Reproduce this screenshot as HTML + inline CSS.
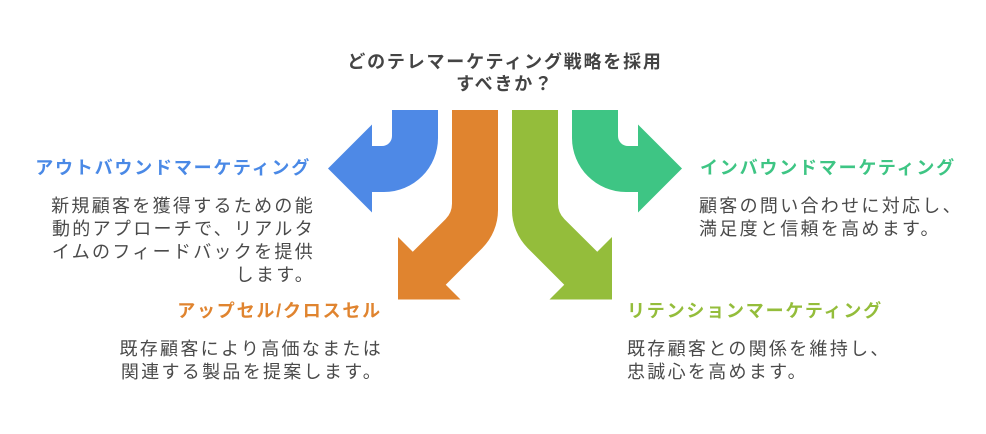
<!DOCTYPE html>
<html lang="ja">
<head>
<meta charset="utf-8">
<style>
  html, body { margin:0; padding:0; background:#ffffff; }
  body { width:986px; height:434px; position:relative; overflow:hidden;
         font-family:"Liberation Sans","Noto Sans CJK JP",sans-serif; }
  .t { position:absolute; white-space:nowrap; font-size:18px; line-height:23px; letter-spacing:1.8px; }
  .h { font-weight:bold; }
  .d { color:#4a4a4a; letter-spacing:2.3px; }
  .r { text-align:right; }
  svg { position:absolute; left:0; top:0; }
</style>
</head>
<body>
<svg width="986" height="434" viewBox="0 0 986 434">
  <path fill="#4E89E6" d="M392,110 H438 V138 A54,54 0 0 1 384,192 H372 V212.5 L328,168.5 L372,124.5 V146 H382 A10,10 0 0 0 392,136 Z"/>
  <path fill="#E0842F" d="M452,110 H498 V210 A54,54 0 0 1 482.2,248.2 L445.75,284.75 L460.5,299.5 H398 V237 L412.75,251.75 L445.6,219.1 A22,22 0 0 0 452,203.5 Z"/>
  <g transform="matrix(-1,0,0,1,1010,0)">
    <path fill="#3EC584" d="M392,110 H438 V138 A54,54 0 0 1 384,192 H372 V212.5 L328,168.5 L372,124.5 V146 H382 A10,10 0 0 0 392,136 Z"/>
    <path fill="#94BD3B" d="M452,110 H498 V210 A54,54 0 0 1 482.2,248.2 L445.75,284.75 L460.5,299.5 H398 V237 L412.75,251.75 L445.6,219.1 A22,22 0 0 0 452,203.5 Z"/>
  </g>
</svg>

<div class="t h" style="left:0; width:1010px; text-align:center; top:51px; line-height:22px; color:#444444;">どのテレマーケティング戦略を採用<br>すべきか？</div>

<div class="t h r" style="right:675px; top:157px; color:#4A89E6;">アウトバウンドマーケティング</div>
<div class="t d r" style="right:671px; top:194.5px;">新規顧客を獲得するための能<br>動的アプローチで、リアルタ<br>イムのフィードバックを提供<br>します。</div>

<div class="t h" style="left:700px; top:156.5px; color:#3EC584;">インバウンドマーケティング</div>
<div class="t d" style="left:699px; top:195px;">顧客の問い合わせに対応し、<br>満足度と信頼を高めます。</div>

<div class="t h r" style="right:604px; top:300px; color:#E0842F;">アップセル/クロスセル</div>
<div class="t d r" style="right:603px; top:337.5px;">既存顧客により高価なまたは<br>関連する製品を提案します。</div>

<div class="t h" style="left:627px; top:300px; color:#94BD3B;">リテンションマーケティング</div>
<div class="t d" style="left:627px; top:337.5px;">既存顧客との関係を維持し、<br>忠誠心を高めます。</div>
</body>
</html>
